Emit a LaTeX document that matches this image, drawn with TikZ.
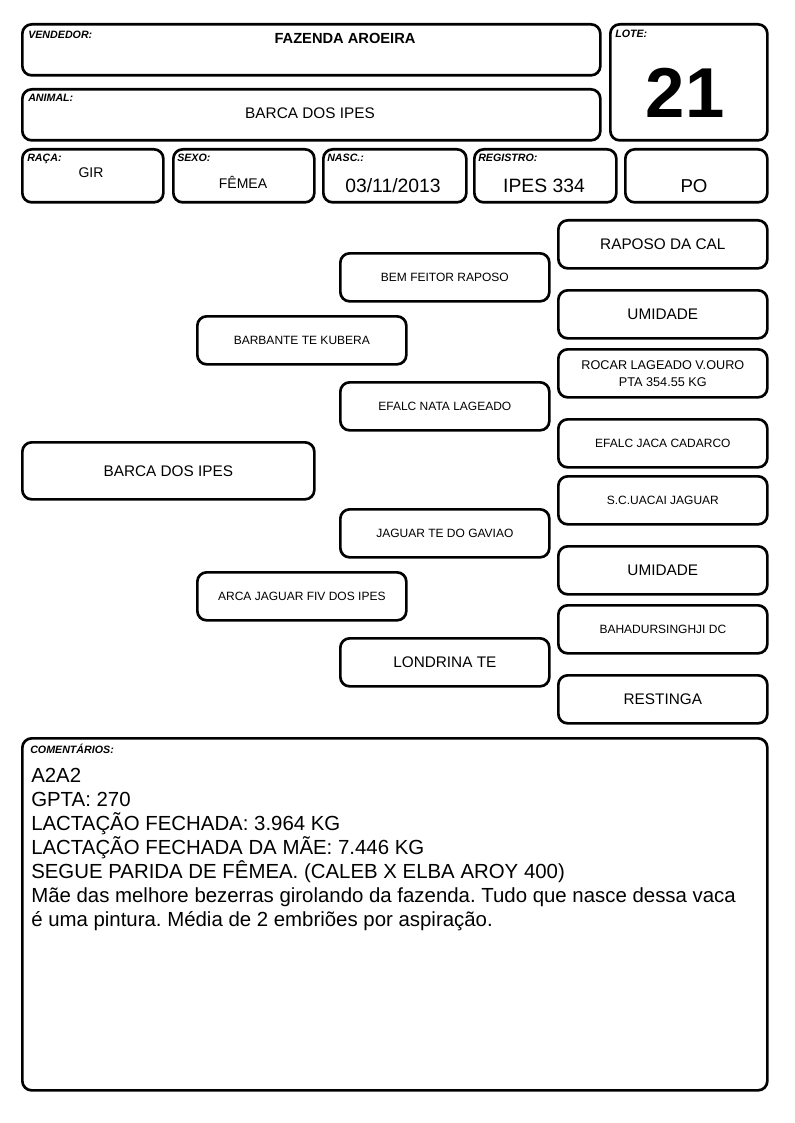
\documentclass[tikz,border=0pt]{standalone}
\usepackage{fontspec}
\setmainfont{Liberation Sans}
\frenchspacing
\usetikzlibrary{positioning}
\tikzset{
    cell/.style = {draw, line width=2pt, rounded corners=7pt, anchor=north west, inner sep=0pt, align=center},
    sz/.style 2 args = {minimum width=#1*0.75pt, minimum height=#2*0.75pt},
    tag/.style = {font=\fontsize{8}{9}\selectfont\bfseries\itshape, anchor=base west, inner sep=0pt},
    val/.style = {anchor=base, inner sep=0pt},
    big/.style = {font=\fontsize{11.5}{14}\selectfont},
    small/.style = {font=\fontsize{9}{12.5}\selectfont},
}
\begin{document}
\begin{tikzpicture}[x=0.75pt, y=-0.75pt]
\useasboundingbox (0,0) rectangle (794,1123);

\node[cell, sz={578}{51}] (vend) at (21,23) {};
\node[tag] (vendtag) at (28,39) {VENDEDOR:};
\node[val, font=\fontsize{11}{13}\selectfont\bfseries] (vendval) at (345,44) {FAZENDA AROEIRA};

\node[cell, sz={578}{51}] (anim) at (21,88) {};
\node[tag] (animtag) at (28,102) {ANIMAL:};
\node[val, font=\fontsize{11.5}{14}\selectfont] (animval) at (310,119) {BARCA DOS IPES};

\node[cell, sz={157}{116}] (lote) at (609,23) {};
\node[tag] (lotetag) at (615,38) {LOTE:};
\node[val, font=\fontsize{53}{60}\selectfont\bfseries] (loteval) at (685,118) {21};

\node[cell, sz={141}{53}] (raca) at (21,148) {};
\node[tag] (racatag) at (27,162) {RAÇA:};
\node[val, font=\fontsize{10.5}{12}\selectfont] (racaval) at (91,178) {GIR};

\node[cell, sz={141}{53}] (sexo) at (172,148) {};
\node[tag] (sexotag) at (177,162) {SEXO:};
\node[val, font=\fontsize{10.5}{12}\selectfont] (sexoval) at (243,189) {FÊMEA};

\node[cell, sz={143}{53}] (nasc) at (322,148) {};
\node[tag] (nasctag) at (327,162) {NASC.:};
\node[val, font=\fontsize{14.5}{16}\selectfont] (nascval) at (393,193) {03/11/2013};

\node[cell, sz={142}{53}] (reg) at (473,148) {};
\node[tag] (regtag) at (478,162) {REGISTRO:};
\node[val, font=\fontsize{14.5}{16}\selectfont] (regval) at (544,193) {IPES 334};

\node[cell, sz={142}{53}] (po) at (624,148) {};
\node[val, font=\fontsize{14}{16}\selectfont] (poval) at (694,193) {PO};

\node[cell, sz={209}{48}, big] (ppp) at (557,219) {RAPOSO DA CAL};
\node[cell, sz={209}{48}, big] (ppm) at (557,289) {UMIDADE};
\node[cell, sz={209}{48}, font=\fontsize{9.5}{12.5}\selectfont] (pmp) at (557,348) {ROCAR LAGEADO V.OURO\\PTA 354.55 KG};
\node[cell, sz={209}{48}, small] (pmm) at (557,418) {EFALC JACA CADARCO};
\node[cell, sz={209}{48}, small] (mpp) at (557,475) {S.C.UACAI JAGUAR};
\node[cell, sz={209}{48}, big] (mpm) at (557,545) {UMIDADE};
\node[cell, sz={209}{48}, small] (mmp) at (557,604) {BAHADURSINGHJI DC};
\node[cell, sz={209}{48}, big] (mmm) at (557,674) {RESTINGA};

\node[cell, sz={209}{48}, small] (pp) at (339,252) {BEM FEITOR RAPOSO};
\node[cell, sz={209}{48}, small] (pm) at (339,381) {EFALC NATA LAGEADO};
\node[cell, sz={209}{48}, small] (mp) at (339,508) {JAGUAR TE DO GAVIAO};
\node[cell, sz={209}{48}, big] (mm) at (339,637) {LONDRINA TE};

\node[cell, sz={209}{48}, small] (pai) at (196,315) {BARBANTE TE KUBERA};
\node[cell, sz={209}{48}, small] (mae) at (196,571) {ARCA JAGUAR FIV DOS IPES};

\node[cell, sz={292}{57}, big] (an) at (21,441) {BARCA DOS IPES};

\node[cell, sz={745}{352}] (coment) at (21,737) {};
\node[tag] (comenttag) at (30,753) {COMENTÁRIOS:};
\node[anchor=base west, inner sep=0pt, align=left, font=\fontsize{15.3}{18}\selectfont] (comentval) at (31,926)
  {A2A2\\GPTA: 270\\LACTAÇÃO FECHADA: 3.964 KG\\LACTAÇÃO FECHADA DA MÃE: 7.446 KG\\SEGUE PARIDA DE FÊMEA. (CALEB X ELBA AROY 400)\\Mãe das melhore bezerras girolando da fazenda. Tudo que nasce dessa vaca\\é uma pintura. Média de 2 embriões por aspiração.};
\end{tikzpicture}
\end{document}
